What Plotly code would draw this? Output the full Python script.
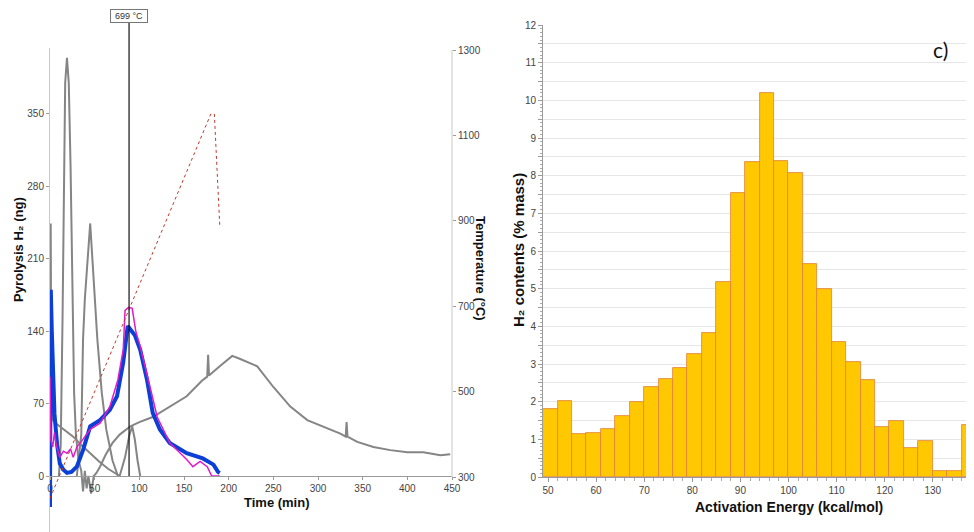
import plotly.graph_objects as go

# ---------------- data: left panel (pyrolysis H2 vs time) ----------------
blue_time = [0, 0.5, 0.9, 2, 3.5, 5, 8, 11, 15, 19, 24, 30, 37, 45, 56, 67, 75, 82, 87, 90,
             95, 101, 108.6, 115, 123, 134, 153, 171, 183, 188, 190]
blue_h2 = [-30, 60, 180, 140, 95, 60, 30, 12, 6, 3, 4, 9, 25, 48, 54, 64, 77, 110, 145, 142,
           136, 122, 93, 61, 45, 32, 22, 17, 11, 4, 3]

magenta_time = [0, 0.2, 1, 3, 5, 7, 9, 11, 15, 19, 23, 26, 30, 34, 45, 56, 67, 76, 82, 84,
                88, 92, 96, 101, 112, 120, 134, 153, 160, 168, 176, 181, 190]
magenta_h2 = [96, 60, 35, 28, 42, 30, 24, 18, 24, 22, 26, 18, 28, 32, 45, 51, 67, 93, 122, 160,
              163, 162, 140, 125, 86, 57, 32, 16, 9, 14, 9, 0, 0]

gray1_time = [0, 0.4, 0.8, 1.4, 2.5, 5, 11, 20, 26, 35, 45, 55, 65, 73, 78, 84, 89, 92, 95, 98, 101]
gray1_h2 = [0, 150, 244, 100, 55, 52, 48, 42, 38, 30, 22, 14, 7, 3, 0, 18, 40, 48, 35, 15, 0]

gray2_time = [10, 12, 14, 15.5, 17, 19, 21, 23, 25, 27, 29, 32, 35, 37, 39, 41, 43, 46, 49, 52,
              56, 62, 70, 78, 90, 100, 115, 130, 153, 170, 176, 177, 178, 190, 204, 213, 232,
              250, 269, 288, 306, 325, 331, 332, 333, 344, 362, 381, 400, 418, 437, 448]
gray2_h2 = [0, 30, 150, 300, 380, 404, 380, 300, 180, 80, 40, 15, 5, -15, 5, -12, 0, -17, 0, 3,
            9, 20, 32, 40, 48, 52, 57, 65, 77, 92, 96, 117, 97, 106, 116, 113, 106,
            86, 67, 54, 48, 41, 38, 52, 38, 33, 28, 25, 23, 23, 20, 21]

gray3_time = [30, 35, 37, 39, 45, 50, 53, 58, 63, 70, 76]
gray3_h2 = [0, 40, 132, 171, 244, 171, 132, 80, 45, 15, 0]

temp_time = [0, 180, 184, 190]
temp_c = [250, 1150, 1150, 890]

marker_time = 88.5
marker_label = "699 °C"

time_ticks = [0, 50, 100, 150, 200, 250, 300, 350, 400, 450]
h2_ticks = [0, 70, 140, 210, 280, 350]
temp_ticks = [300, 500, 700, 900, 1100, 1300]

# ---------------- data: right panel (activation energy histogram) ----------------
energy_bin_center = [50.5, 53.5, 56.5, 59.5, 62.5, 65.5, 68.5, 71.5, 74.5, 77.5, 80.5, 83.5,
                     86.5, 89.5, 92.5, 95.5, 98.5, 101.5, 104.5, 107.5, 110.5, 113.5, 116.5,
                     119.5, 122.5, 125.5, 128.5, 131.5, 134.5, 137.5]
h2_content = [1.80, 2.02, 1.15, 1.17, 1.27, 1.61, 1.98, 2.40, 2.60, 2.90, 3.27, 3.83,
              5.19, 7.55, 8.37, 10.20, 8.40, 8.08, 5.66, 4.98, 3.59, 3.04, 2.57,
              1.34, 1.50, 0.78, 0.96, 0.16, 0.17, 1.38]
energy_bin_width = 3
energy_ticks = [50, 60, 70, 80, 90, 100, 110, 120, 130]
content_ticks = [i * 0.5 for i in range(25)]
content_ticktext = [str(int(v)) if v == int(v) else "" for v in content_ticks]

# ---------------- figure ----------------
# The page body adds an 8 px margin, so the figure is 8 px smaller on each axis
# and all layout pixel positions (measured in the 974x532 window) are shifted by 8.
OFF = 8
W, H = 974 - OFF, 532 - OFF
def fx(p):
    return (p - OFF) / W
def fy(p):
    return 1 - (p - OFF) / H

FONT = "Liberation Sans, Arial, sans-serif"
TICKC = "#444444"

fig = go.Figure()

for t, v in [(gray1_time, gray1_h2), (gray3_time, gray3_h2), (gray2_time, gray2_h2)]:
    fig.add_trace(go.Scatter(x=t, y=v, mode="lines", line=dict(color="#858585", width=2),
                             xaxis="x", yaxis="y", hoverinfo="skip"))

fig.add_trace(go.Scatter(x=blue_time, y=blue_h2, mode="lines",
                         line=dict(color="#0B3FD6", width=4), xaxis="x", yaxis="y"))
fig.add_trace(go.Scatter(x=magenta_time, y=magenta_h2, mode="lines",
                         line=dict(color="#E01BC8", width=1.5), xaxis="x", yaxis="y"))
fig.add_trace(go.Scatter(x=temp_time, y=temp_c, mode="lines",
                         line=dict(color="#C0392B", width=1, dash="dot"), xaxis="x", yaxis="y2"))

fig.add_trace(go.Bar(x=energy_bin_center, y=h2_content, width=energy_bin_width,
                     marker=dict(color="#FFC800", line=dict(color="#E0803A", width=0.8)),
                     xaxis="x3", yaxis="y3"))

axis_font = dict(family=FONT, size=10, color=TICKC)

# left panel: y pixel 48 (top) .. 532 (bottom); 0 ng at 476 px, 1.035 px/ng
# temperature: 300 at 477 px, 1300 at 50 px
fig.update_layout(
    width=W, height=H,
    margin=dict(l=0, r=0, t=0, b=0, pad=0, autoexpand=False),
    paper_bgcolor="white", plot_bgcolor="white",
    showlegend=False,
    bargap=0,
    xaxis=dict(domain=[fx(50), fx(452)], range=[0, 450], anchor="free", position=fy(476),
               automargin=False,
               showline=True, linecolor="#9a9a9a", linewidth=1,
               tickmode="array", tickvals=time_ticks, ticks="outside", ticklen=3,
               tickcolor="#9a9a9a", tickfont=axis_font, showgrid=False, zeroline=False),
    yaxis=dict(domain=[0, fy(48)], range=[-54.1, 413.5], anchor="x",
               automargin=False,
               showline=True, linecolor="#c8c8c8", linewidth=1,
               tickmode="array", tickvals=h2_ticks, ticks="outside", ticklen=3,
               tickcolor="#9a9a9a", tickfont=axis_font, showgrid=False, zeroline=False),
    yaxis2=dict(overlaying="y", side="right", anchor="x", range=[171.2, 1304.7],
                automargin=False,
                showline=False, tickmode="array", tickvals=temp_ticks, ticks="outside",
                ticklen=3, tickcolor="#9a9a9a", tickfont=axis_font,
                showgrid=False, zeroline=False),
    xaxis3=dict(domain=[fx(543), 1.0], range=[48.96, 138.57], anchor="y3", automargin=False,
                showline=True, linecolor="#9a9a9a", linewidth=1,
                tickmode="array", tickvals=energy_ticks, ticks="outside", ticklen=4,
                tickcolor="#9a9a9a", tickfont=axis_font, showgrid=False, zeroline=False,
                minor=dict(dtick=2, ticklen=3, tickcolor="#aaaaaa", ticks="outside")),
    yaxis3=dict(domain=[fy(477), fy(25)], range=[0, 12], anchor="x3", automargin=False,
                showline=True, linecolor="#9a9a9a", linewidth=1,
                tickmode="array", tickvals=content_ticks, ticktext=content_ticktext,
                ticks="outside", ticklen=4, tickcolor="#9a9a9a", tickfont=axis_font,
                showgrid=True, gridcolor="#e6e6e6", gridwidth=1, zeroline=False,
                minor=dict(dtick=0.1, ticklen=2, tickcolor="#aaaaaa", ticks="outside",
                           showgrid=False)),
    shapes=[
        dict(type="line", xref="paper", yref="y2", x0=fx(452), x1=fx(452), y0=300, y1=1300,
             line=dict(color="#c8c8c8", width=1)),
        dict(type="line", xref="x", yref="paper", x0=marker_time, x1=marker_time,
             y0=fy(476), y1=fy(22), line=dict(color="#111111", width=1.2)),
    ],
    annotations=[
        dict(x=marker_time, y=fy(16), xref="x", yref="paper", text=marker_label,
             showarrow=False, font=dict(family=FONT, size=9, color="#333"),
             bgcolor="white", bordercolor="#777", borderwidth=1, borderpad=1,
             width=34, xanchor="center", yanchor="middle"),
        dict(x=fx(18), y=fy(250), xref="paper", yref="paper", text="<b>Pyrolysis H₂ (ng)</b>",
             textangle=-90, showarrow=False, font=dict(family=FONT, size=13, color="#111"),
             xanchor="center", yanchor="middle"),
        dict(x=fx(481), y=fy(268), xref="paper", yref="paper", text="<b>Temperature (°C)</b>",
             textangle=90, showarrow=False, font=dict(family=FONT, size=13, color="#111"),
             xanchor="center", yanchor="middle"),
        dict(x=fx(277), y=fy(502), xref="paper", yref="paper", text="<b>Time (min)</b>",
             showarrow=False, font=dict(family=FONT, size=13, color="#111"),
             xanchor="center", yanchor="middle"),
        dict(x=fx(518), y=fy(250), xref="paper", yref="paper", text="<b>H₂ contents (% mass)</b>",
             textangle=-90, showarrow=False, font=dict(family=FONT, size=15, color="#111"),
             xanchor="center", yanchor="middle"),
        dict(x=fx(789), y=fy(507), xref="paper", yref="paper",
             text="<b>Activation Energy (kcal/mol)</b>",
             showarrow=False, font=dict(family=FONT, size=14, color="#111"),
             xanchor="center", yanchor="middle"),
        dict(x=fx(940), y=fy(50), xref="paper", yref="paper", text="c)",
             showarrow=False, font=dict(family="Lato, sans-serif", size=21, color="#111"),
             xanchor="center", yanchor="middle"),
    ],
)

fig.write_html("out.html")
